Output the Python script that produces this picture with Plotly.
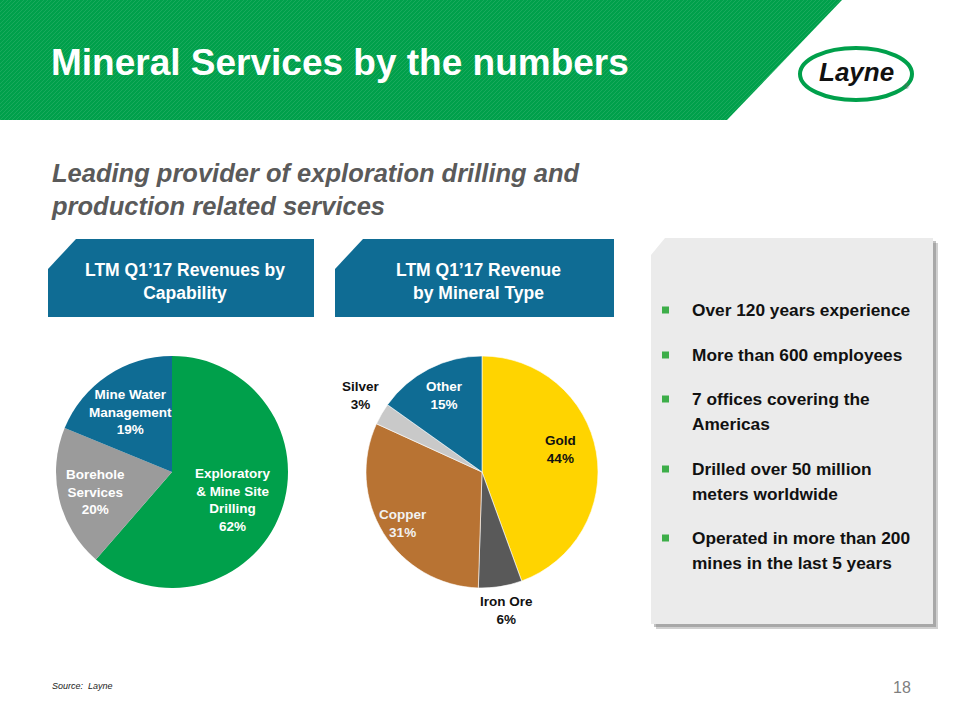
import plotly.graph_objects as go

W, H = 960, 720

# ---------------- data ----------------
cap_labels = ["Exploratory<br>& Mine Site<br>Drilling", "Borehole<br>Services", "Mine Water<br>Management"]
cap_values = [62, 20, 19]
cap_colors = ["#00A04B", "#9B9B9B", "#0F6C94"]

min_labels = ["Gold", "Iron Ore", "Copper", "Silver", "Other"]
min_values = [44, 6, 31, 3, 15]
min_colors = ["#FFD400", "#595959", "#B87333", "#C9C9C9", "#0F6C94"]

bullets = [
    ["Over 120 years experience"],
    ["More than 600 employees"],
    ["7 offices covering the", "Americas"],
    ["Drilled over 50 million", "meters worldwide"],
    ["Operated in more than 200", "mines in the last 5 years"],
]

title_text = "Mineral Services by the numbers"
subtitle_text = "Leading provider of exploration drilling and<br>production related services"
box1_text = "LTM Q1\u201917 Revenues by<br>Capability"
box2_text = "LTM Q1\u201917 Revenue<br>by Mineral Type"

NARROW = "Liberation Sans, Arial, sans-serif"


def X(px):
    return px / W


def Y(py):
    return 1 - py / H


def path(points):
    return "M " + " L ".join(f"{X(x):.5f},{Y(y):.5f}" for x, y in points) + " Z"


fig = go.Figure()

# pies
fig.add_trace(go.Pie(
    labels=[l.replace("<br>", " ") for l in cap_labels], values=cap_values,
    marker=dict(colors=cap_colors, line=dict(width=0)),
    sort=False, direction="clockwise", rotation=0, textinfo="none",
    domain=dict(x=[X(56), X(288)], y=[Y(588), Y(356)]), showlegend=False,
))
fig.add_trace(go.Pie(
    labels=min_labels, values=min_values,
    marker=dict(colors=min_colors, line=dict(width=0.6, color="white")),
    sort=False, direction="clockwise", rotation=0, textinfo="none",
    domain=dict(x=[X(366), X(598)], y=[Y(588), Y(356)]), showlegend=False,
))

shapes = []
# green banner
top_r, bot_r, bh = 842, 727, 120
banner = [(0, 0), (top_r, 0), (bot_r, bh), (0, bh)]
shapes.append(dict(type="path", path=path(banner), fillcolor="#00A04B", line=dict(width=0), layer="below"))
# subtle diagonal stripes
seg = []
k = (top_r - bot_r) / bh
c = 4
while c < top_r + bh:
    y_start = min(bh, c)
    x_start = c - y_start
    if c <= top_r:
        y_end, x_end = 0, c
    else:
        y_end = (c - top_r) / (1 - k)
        x_end = c - y_end
    if y_end < y_start:
        seg.append(f"M {X(x_start):.5f},{Y(y_start):.5f} L {X(x_end):.5f},{Y(y_end):.5f}")
    c += 4
shapes.append(dict(type="path", path=" ".join(seg), line=dict(width=1, color="rgba(255,255,255,0.10)"), layer="below"))

# logo swoosh
shapes.append(dict(type="circle", x0=X(800), x1=X(912), y0=Y(100), y1=Y(48),
                   line=dict(width=4, color="#00A04B"), layer="above"))


def cut_box(x0, y0, x1, y1, cx, cy):
    return [(x0, y0 + cy), (x0 + cx, y0), (x1, y0), (x1, y1), (x0, y1)]


# blue header boxes
shapes.append(dict(type="path", path=path(cut_box(48, 239, 314, 317, 28, 30)), fillcolor="#0F6C94", line=dict(width=0)))
shapes.append(dict(type="path", path=path(cut_box(335, 239, 614, 317, 28, 30)), fillcolor="#0F6C94", line=dict(width=0)))

# right panel with shadow
shapes.append(dict(type="path", path=path(cut_box(656, 243, 938, 629, 14, 17)), fillcolor="rgba(120,120,120,0.35)", line=dict(width=0)))
shapes.append(dict(type="path", path=path(cut_box(654, 241, 936, 627, 14, 17)), fillcolor="rgba(120,120,120,0.45)", line=dict(width=0)))
shapes.append(dict(type="path", path=path(cut_box(651, 238, 933, 624, 14, 17)), fillcolor="#EBEBEB", line=dict(width=0)))

annotations = []


def ann(text, x, y, size, color, xanchor="center", bold=True, italic=False, family=NARROW, align="center"):
    t = text
    if italic:
        t = f"<i>{t}</i>"
    if bold:
        t = f"<b>{t}</b>"
    annotations.append(dict(text=t, x=X(x), y=Y(y), xref="paper", yref="paper", showarrow=False,
                            xanchor=xanchor, yanchor="middle", align=align,
                            font=dict(size=size, color=color, family=family)))


ann(title_text, 49, 62, 37, "white", xanchor="left")
ann("Layne", 856, 72, 26, "#111111", italic=True)
ann("\u00ae", 907, 86, 7, "#666666", bold=False)
ann(subtitle_text, 49, 190, 25.5, "#5A5A5A", xanchor="left", italic=True, align="left")
ann(box1_text, 185, 282, 17.5, "white")
ann(box2_text, 478, 282, 17.5, "white")

# pie labels
cap_pos = [(233, 500, "white"), (95, 492, "white"), (130, 412, "white")]
for lab, v, (x, y, col) in zip(cap_labels, cap_values, cap_pos):
    ann(f"{lab}<br>{v}%", x, y, 13.5, col)

min_pos = [(560, 449, "#111111"), (506, 610, "#111111"), (403, 523, "#F2F2F2"), (361, 395, "#111111"), (444, 395, "white")]
for lab, v, (x, y, col) in zip(min_labels, min_values, min_pos):
    ann(f"{lab}<br>{v}%", x, y, 13.5, col)

# bullets
bullet_y = [310, 355, 399, 469, 538]
for lines, by in zip(bullets, bullet_y):
    shapes.append(dict(type="rect", x0=X(662), x1=X(669), y0=Y(by + 3.5), y1=Y(by - 3.5),
                       fillcolor="#3DAE49", line=dict(width=0)))
    for i, ln in enumerate(lines):
        ann(ln, 690, by + i * 24.5, 17.3, "#111111", xanchor="left")

ann("Source:  Layne", 50, 686, 9, "#222222", xanchor="left", bold=False, italic=True)
ann("18", 913, 687, 16, "#7F7F7F", xanchor="right", bold=False)

fig.update_layout(width=W, height=H, margin=dict(l=0, r=0, t=0, b=0),
                  paper_bgcolor="white", plot_bgcolor="white",
                  shapes=shapes, annotations=annotations, showlegend=False)

fig.write_html("out.html", config={"displayModeBar": False},
               post_script="document.body.style.margin='0';document.body.style.overflow='hidden';")
